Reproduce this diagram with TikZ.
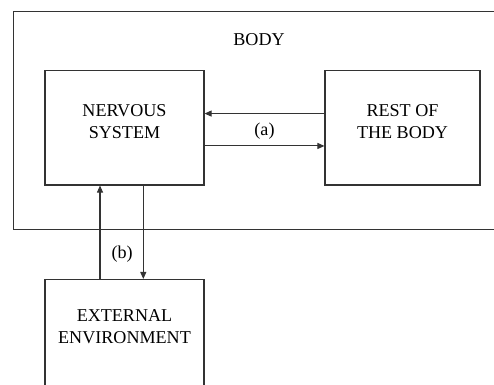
\documentclass[tikz,border=0pt]{standalone}
\usepackage{fontspec}
\setmainfont{Liberation Serif}
\usetikzlibrary{arrows.meta}

\begin{document}
\begin{tikzpicture}[x=0.02cm, y=-0.02cm,
    every node/.style={font=\fontsize{10.3}{12.2}\selectfont},
    box/.style={draw=black!80, line width=0.6pt, rectangle, anchor=north, align=center,
      minimum width=3.18cm, inner xsep=0pt, inner ysep=0.68cm, text height=0.67cm, text depth=0.26cm},
    link/.style={-{Triangle[length=4pt, width=3.4pt]}, draw=black!80, line width=0.6pt}]
        \useasboundingbox (0,0) rectangle (494,385);

        % The body
        \node[draw=black!80, line width=0.6pt, rectangle, anchor=north west, minimum width=10.34cm, minimum height=4.366cm, inner sep=0pt] (body) at (13,10.7) {};
        \node (bodytitle) at (259,39.5) {BODY};

        % Boxes inside the body
        \node[box] (nervous) at (124.5,70) {NERVOUS\\SYSTEM};
        \node[box, minimum width=3.1cm] (rest) at (402.5,70) {REST OF\\THE BODY};

        % Outside the body
        \node[box, inner ysep=0.6cm, text depth=1.4cm] (external) at (124.5,279) {EXTERNAL\\ENVIRONMENT};

        % Arrows (a)
        \draw[link] ([yshift=0.284cm]rest.west) -- ([yshift=0.284cm]nervous.east);
        \draw[link] ([yshift=-0.364cm]nervous.east) -- ([yshift=-0.364cm]rest.west) node[midway, above] (taga) {(a)};

        % Arrows (b)
        \draw[link] ([xshift=-0.49cm]external.north) -- ([xshift=-0.49cm]nervous.south) node[pos=0.27, right=3pt] (tagb) {(b)};
        \draw[link] ([xshift=0.376cm]nervous.south) -- ([xshift=0.376cm]external.north);
    \end{tikzpicture}
\end{document}
